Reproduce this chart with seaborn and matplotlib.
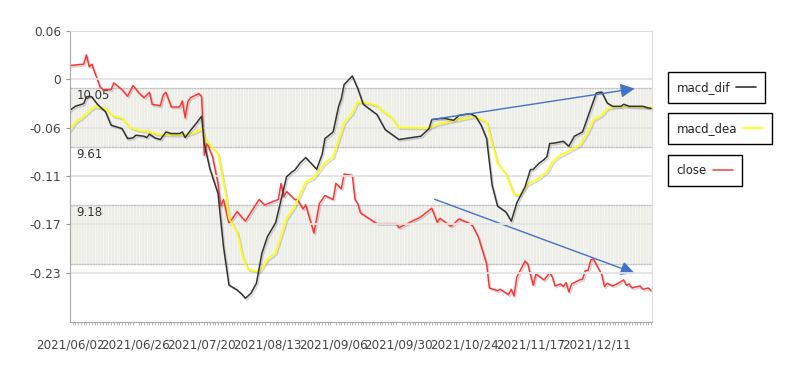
import pandas as pd
import matplotlib
matplotlib.use("Agg")
import matplotlib.pyplot as plt
import matplotlib.dates as mdates
import matplotlib.patheffects as pe
from matplotlib.lines import Line2D
from matplotlib.ticker import FixedLocator
import matplotlib.transforms as mtransforms
import seaborn as sns

# ----------------------------
# data (day = days after START)
# ----------------------------
START = pd.Timestamp("2021-06-02")
END = pd.Timestamp("2021-12-31 08:00")

dif_day = [0, 2, 5, 6, 7, 8, 10, 13, 15, 19, 21, 23, 24, 27, 28, 29, 31, 33, 35, 37,
           40, 41, 42, 44, 46, 48, 49, 51, 54, 56, 58, 61, 63, 64, 66, 68, 70, 72, 75, 77,
           79, 81, 82, 84, 86, 90, 92, 93, 96, 98, 99, 100, 103, 105, 107, 112, 115, 117, 120, 128,
           131, 132, 135, 137, 140, 142, 146, 148, 150, 152, 154, 156, 159, 161, 163, 166, 168, 169, 171, 173,
           174, 175, 177, 180, 182, 184, 187, 189, 192, 194, 196, 198, 201, 202, 204, 209, 211, 212]
dif_val = [-0.0368, -0.032, -0.0289, -0.021, -0.0202, -0.021, -0.0297, -0.0388, -0.0546, -0.0586,
           -0.0705, -0.0697, -0.0665, -0.0677, -0.0693, -0.0653, -0.0697, -0.0716, -0.0626, -0.0645,
           -0.0645, -0.0626, -0.0693, -0.0606, -0.0526, -0.044, -0.0764, -0.106, -0.1358, -0.199,
           -0.2447, -0.2506, -0.2566, -0.2605, -0.2546, -0.2427, -0.2071, -0.1873, -0.1707, -0.1437,
           -0.116, -0.1101, -0.108, -0.0994, -0.093, -0.107, -0.089, -0.0705, -0.0626, -0.0321,
           -0.0229, -0.0063, 0.0039, -0.011, -0.0297, -0.0419, -0.0598, -0.0645, -0.0716, -0.0677,
           -0.0586, -0.0479, -0.0467, -0.0467, -0.0487, -0.0428, -0.0408, -0.044, -0.0546, -0.0705,
           -0.1259, -0.1509, -0.1576, -0.1687, -0.147, -0.128, -0.1073, -0.1073, -0.1002, -0.0954,
           -0.092, -0.0764, -0.0757, -0.0737, -0.0796, -0.0677, -0.0626, -0.044, -0.0163, -0.0151,
           -0.0282, -0.0321, -0.0321, -0.0297, -0.0321, -0.0321, -0.0341, -0.0345]

dea_day = [0, 2, 4, 6, 8, 9, 13, 16, 19, 22, 25, 29, 32, 39, 43, 46, 48, 50, 54, 57,
           58, 61, 63, 65, 69, 70, 72, 75, 79, 82, 86, 89, 93, 96, 100, 103, 105, 107, 112, 115,
           117, 120, 131, 134, 139, 142, 148, 152, 154, 156, 159, 162, 164, 167, 171, 174, 176, 178, 183, 186,
           189, 191, 194, 196, 199, 203, 212]
dea_val = [-0.0606, -0.0507, -0.0467, -0.0408, -0.0348, -0.0329, -0.0348, -0.044, -0.046, -0.0574,
           -0.0606, -0.0626, -0.0653, -0.0665, -0.0657, -0.0626, -0.0586, -0.0745, -0.0883, -0.1398,
           -0.1655, -0.1814, -0.2111, -0.2261, -0.2289, -0.2249, -0.2142, -0.2064, -0.1655, -0.1509,
           -0.122, -0.117, -0.0994, -0.0923, -0.0519, -0.04, -0.027, -0.027, -0.0309, -0.04,
           -0.044, -0.0574, -0.0579, -0.0535, -0.0499, -0.0479, -0.044, -0.0507, -0.0764, -0.0994,
           -0.112, -0.1366, -0.1378, -0.1247, -0.118, -0.1101, -0.0982, -0.0923, -0.0835, -0.0784,
           -0.0626, -0.0479, -0.0428, -0.0348, -0.0329, -0.0321, -0.0336]

close_day = [0, 5, 6, 7, 8, 9, 11, 12, 15, 16, 19, 21, 23, 25, 27, 29, 30, 33, 34, 35,
             37, 40, 41, 42, 43, 44, 47, 48, 49, 50, 52, 54, 55, 56, 58, 61, 63, 64, 69, 71,
             76, 77, 78, 79, 82, 83, 85, 86, 89, 91, 93, 96, 97, 99, 100, 103, 104, 105, 106, 112,
             118, 119, 120, 128, 132, 134, 135, 139, 142, 146, 147, 149, 152, 153, 156, 157, 160, 161, 162, 163,
             166, 167, 169, 170, 173, 175, 176, 177, 179, 180, 181, 182, 183, 186, 187, 188, 189, 190, 191, 194,
             195, 196, 198, 200, 202, 203, 204, 205, 208, 209, 211, 212]
close_val = [10.22, 10.23, 10.30, 10.21, 10.23, 10.17, 10.06, 10.04, 10.04, 10.09,
             10.04, 9.99, 10.07, 10.02, 9.98, 10.02, 9.93, 9.92, 10.00, 10.02,
             9.91, 9.91, 9.955, 9.83, 9.95, 9.98, 10.01, 9.99, 9.55, 9.64,
             9.54, 9.34, 9.17, 9.22, 9.04, 9.13, 9.08, 9.06, 9.22, 9.18,
             9.22, 9.34, 9.24, 9.28, 9.22, 9.22, 9.15, 9.18, 8.97, 9.19,
             9.25, 9.22, 9.34, 9.30, 9.41, 9.40, 9.22, 9.19, 9.12, 9.04,
             9.04, 9.04, 9.01, 9.09, 9.155, 9.05, 9.08, 9.02, 9.075, 9.04,
             9.02, 8.94, 8.74, 8.56, 8.54, 8.55, 8.51, 8.55, 8.50, 8.64,
             8.76, 8.74, 8.58, 8.665, 8.62, 8.675, 8.64, 8.575, 8.59, 8.57,
             8.60, 8.53, 8.59, 8.62, 8.625, 8.69, 8.69, 8.77, 8.775, 8.66,
             8.57, 8.595, 8.575, 8.595, 8.62, 8.58, 8.59, 8.56, 8.575, 8.55,
             8.56, 8.54]

macd_ticks = [0.0575, 0.0, -0.0575, -0.115, -0.1725, -0.23]
macd_tick_labels = ["0.06", "0", "-0.06", "-0.11", "-0.17", "-0.23"]
macd_range = (-0.2887, 0.0575)

close_levels = [10.05, 9.61, 9.18, 8.74]
close_level_labels = ["10.05", "9.61", "9.18", ""]
close_bands = [(9.61, 10.05), (8.74, 9.18)]
close_range = (8.306, 10.4775)

date_tick_labels = ["2021/06/02", "2021/06/26", "2021/07/20", "2021/08/13", "2021/09/06",
                    "2021/09/30", "2021/10/24", "2021/11/17", "2021/12/11"]

# trend arrows: (day, value) start -> end
up_arrow = [(132, -0.0479), (206, -0.011)]
down_arrow = [(133, 9.222), (206, 8.67)]

# ----------------------------
# figure
# ----------------------------
sns.set_style("white")
plt.rcParams['font.family'] = ['DejaVu Sans']

def to_dates(days):
    return START + pd.to_timedelta(days, unit="D")

fig = plt.figure(figsize=(7.96, 3.78), dpi=100)
ax = fig.add_axes([70 / 796, 1 - 322 / 378, 582 / 796, 291 / 378])
ax2 = ax.twinx()
ax.set_zorder(2)
ax2.set_zorder(1)
ax.patch.set_visible(False)
ax2.patch.set_facecolor("#f6f6f3")

shadow = [pe.SimpleLineShadow(offset=(1.0, -1.2), shadow_color="#888888", alpha=0.35), pe.Normal()]

# close axis (behind): bands, grid, red line
ax2.set_ylim(*close_range)
for lo, hi in close_bands:
    ax2.axhspan(lo, hi, color="#eeeee8", lw=0, zorder=0)
for lev, lab in zip(close_levels, close_level_labels):
    ax2.axhline(lev, color="#c2c2c2", lw=1, zorder=0.5)
    if lab:
        ax2.text(0.011, lev - 0.005, lab, va="top", ha="left", fontsize=8.5, color="#333333",
                 transform=mtransforms.blended_transform_factory(ax2.transAxes, ax2.transData))
sns.lineplot(x=to_dates(close_day), y=close_val, ax=ax2, color="#ff3333", lw=1.1,
             path_effects=shadow, zorder=3)
ax2.xaxis.set_visible(True)
ax2.set_axisbelow(True)
ax2.grid(which="minor", axis="x", color="white", lw=0.5, alpha=0.5)
ax2.grid(which="major", axis="x", color="white", lw=0.5, alpha=0.5)
ax2.tick_params(axis="both", which="both", length=0, labelbottom=False, labelright=False)
ax2.set_xlabel("")
ax2.set_ylabel("")
for s in ax2.spines.values():
    s.set_visible(False)

# macd axis (front)
sns.lineplot(x=to_dates(dea_day), y=dea_val, ax=ax, color="#ffff00", lw=1.2, path_effects=shadow)
sns.lineplot(x=to_dates(dif_day), y=dif_val, ax=ax, color="#333333", lw=1.1, path_effects=shadow)

for (x0, y0), (x1, y1), a in [(up_arrow[0], up_arrow[1], ax), (down_arrow[0], down_arrow[1], ax2)]:
    a.annotate("", xy=(to_dates([x1])[0], y1), xytext=(to_dates([x0])[0], y0),
               arrowprops=dict(arrowstyle="-|>,head_length=0.6,head_width=0.3", color="#4472c4",
                               lw=1.0, mutation_scale=14, shrinkA=0, shrinkB=0), zorder=5)

ax.set_ylim(*macd_range)
ax.set_xlim(START, END)
ax.yaxis.set_major_locator(FixedLocator(macd_ticks))
ax.set_yticklabels(macd_tick_labels)
ax.grid(axis="y", color="#e3e3e3", lw=1.3)
ax.grid(axis="x", visible=False)

tick_dates = pd.to_datetime(date_tick_labels, format="%Y/%m/%d")
ax.xaxis.set_major_locator(FixedLocator(mdates.date2num(tick_dates)))
ax.xaxis.set_minor_locator(mdates.DayLocator())
ax.set_xticklabels(date_tick_labels)
ax.tick_params(axis="x", which="major", length=3, color="#999999", labelsize=8.6,
               labelcolor="#444444", pad=9)
ax.tick_params(axis="x", which="minor", length=2, color="#aaaaaa", bottom=True)
ax.tick_params(axis="y", which="major", length=3, color="#999999", labelsize=8.8,
               labelcolor="#444444", left=True)
ax.set_xlabel("")
ax.set_ylabel("")
for side in ["left", "bottom"]:
    ax.spines[side].set_color("#a8a8a8")
for side in ["top", "right"]:
    ax.spines[side].set_color("#dddddd")

# legends: one box per series, line sample after text
legend_items = [("macd_dif", "#333333", 72), ("macd_dea", "#ffff00", 113), ("close", "#f05050", 155)]
for name, col, top in legend_items:
    leg = fig.legend(handles=[Line2D([], [], color=col, lw=1.2)], labels=[name],
                     loc="upper left", bbox_to_anchor=(668 / 796, 1 - top / 378),
                     frameon=True, fancybox=False, edgecolor="black", framealpha=1,
                     markerfirst=False, fontsize=8.5, handlelength=1.7, handletextpad=0.5,
                     borderpad=0.75, borderaxespad=0)
    leg.get_frame().set_linewidth(1.0)
    for t in leg.get_texts():
        t.set_color("#222222")

fig.savefig("out.png", dpi=100)
